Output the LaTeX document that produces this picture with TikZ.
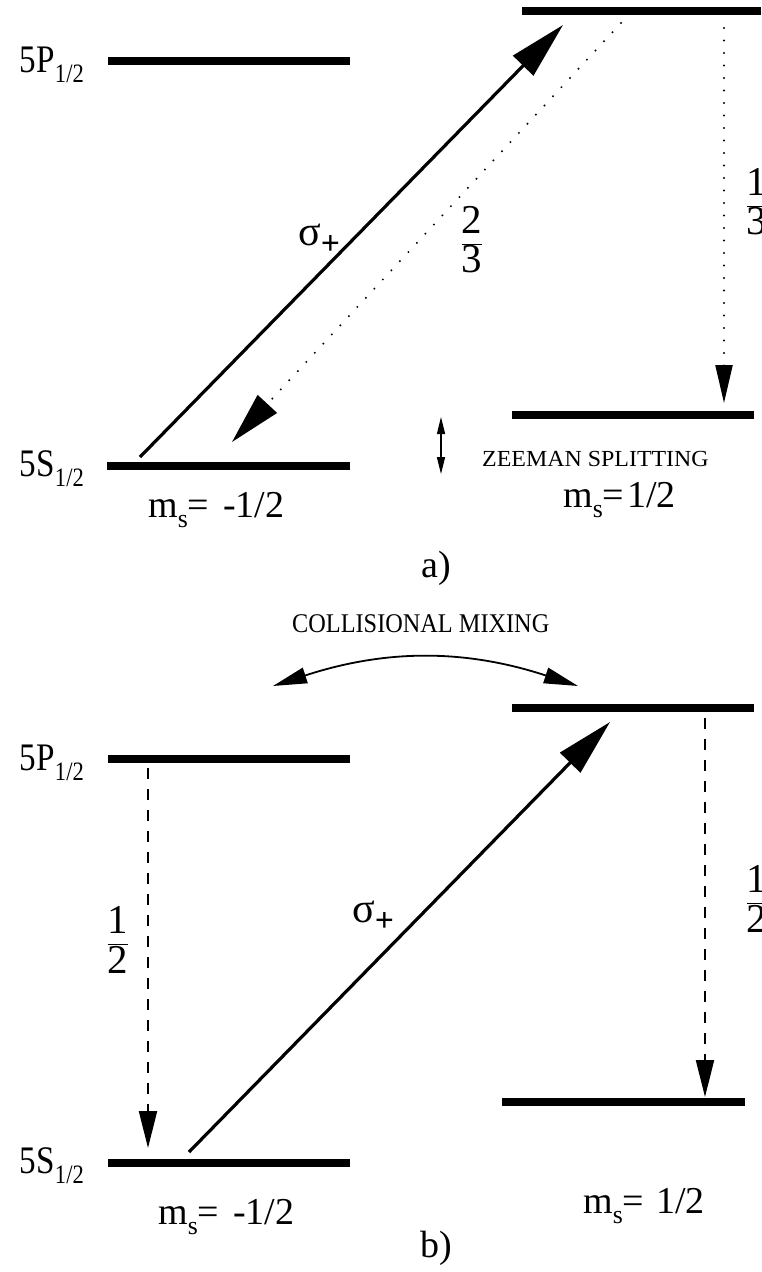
\documentclass[tikz,border=0pt]{standalone}
\usepackage{fontspec}
\setmainfont{Liberation Serif}
\usepackage{graphicx}
\usetikzlibrary{arrows.meta}
\newcommand{\lsub}[1]{\raisebox{-0.27em}{\scalebox{0.68}{#1}}}
\newcommand{\psub}[1]{\raisebox{-0.22em}{\scalebox{0.8}{#1}}}
\newcommand{\hs}[2]{\scalebox{#1}[1]{#2}}
\newcommand{\fs}[1]{\fontsize{#1}{#1}\selectfont}
\newcommand{\fr}[2]{$\displaystyle\frac{\mbox{#1}}{\mbox{#2}}$}
\begin{document}
\begin{tikzpicture}[x=1pt,y=-1pt,
  level/.style={line width=8pt, line cap=butt},
  lbl/.style={inner sep=0pt, font=\fs{39}},
  mslbl/.style={inner sep=0pt, font=\fs{38}},
  small/.style={inner sep=0pt, font=\fs{23}},
  frac/.style={inner sep=0pt, font=\fs{41}},
  sig/.style={inner sep=0pt, font=\fs{42}},
  pump/.style={line width=3.2pt, -{Triangle[length=57pt,width=28pt]}},
  dotarrow/.style={line width=2.2pt, line cap=round, dash pattern=on 0pt off 12.5pt},
  dasharrow/.style={line width=2pt, dash pattern=on 11pt off 10pt, -{Triangle[length=37pt,width=18pt]}},
]
\useasboundingbox (0,0) rectangle (761,1272);

% ---------- panel a ----------
\coordinate (PaL) at (108,61);  \coordinate (PaR) at (350,61);
\coordinate (UaL) at (522,11);  \coordinate (UaR) at (761,11);
\coordinate (SaL) at (107,466); \coordinate (SaR) at (350,466);
\coordinate (DaL) at (512,415); \coordinate (DaR) at (754,415);
\draw[level] (PaL) -- (PaR);
\draw[level] (UaL) -- (UaR);
\draw[level] (SaL) -- (SaR);
\draw[level] (DaL) -- (DaR);

\node[lbl, anchor=base east] (p5a) at (84,72) {\hs{0.85}{5P\lsub{1/2}}};
\node[lbl, anchor=base east] (s5a) at (84,476) {\hs{0.85}{5S\lsub{1/2}}};

\coordinate (sigAs) at (140,457); \coordinate (sigAe) at (563,25);
\draw[pump] (sigAs) -- (sigAe);
\node[sig, anchor=base west] (sigA) at (298,245) {σ\psub{\textbf{+}}};

\coordinate (twoS) at (621,23); \coordinate (twoE) at (232,442);
\draw[dotarrow, -{Triangle[length=52pt,width=26pt]}] (twoS) -- (twoE);
\node[frac] (twothird) at (472,240) {\fr{2}{3}};

\coordinate (oneS) at (724,28); \coordinate (oneE) at (724,403);
\draw[dotarrow, -{Triangle[length=38pt,width=17pt]}] (oneS) -- (oneE);
\node[frac] (onethird) at (757,202) {\fr{1}{3}};

\coordinate (zT) at (441,417); \coordinate (zB) at (441,474);
\draw[line width=1.3pt, {Triangle[length=17pt,width=8pt]}-{Triangle[length=17pt,width=8pt]}] (zT) -- (zB);
\node[small, anchor=base west] (zee) at (482,466) {\hs{1.04}{ZEEMAN SPLITTING}};

\node[mslbl, anchor=base west] (msa1) at (148,517) {m\lsub{s}=\hspace{14pt}-1/2};
\node[mslbl, anchor=base west] (msa2) at (563,507) {m\lsub{s}=\hspace{3pt}1/2};
\node[mslbl, anchor=base west] (capa) at (421,577) {a)};

% ---------- panel b ----------
\coordinate (PbL) at (108,759);  \coordinate (PbR) at (350,759);
\coordinate (UbL) at (512,708);  \coordinate (UbR) at (754,708);
\coordinate (SbL) at (108,1163); \coordinate (SbR) at (350,1163);
\coordinate (DbL) at (502,1102); \coordinate (DbR) at (745,1102);
\draw[level] (PbL) -- (PbR);
\draw[level] (UbL) -- (UbR);
\draw[level] (SbL) -- (SbR);
\draw[level] (DbL) -- (DbR);

\node[lbl, anchor=base east] (p5b) at (84,770) {\hs{0.85}{5P\lsub{1/2}}};
\node[lbl, anchor=base east] (s5b) at (84,1173) {\hs{0.85}{5S\lsub{1/2}}};

\node[inner sep=0pt, font=\fs{27}, anchor=base west] (coll) at (292,632) {\hs{0.9}{COLLISIONAL MIXING}};
\coordinate (cmL) at (273,686); \coordinate (cmR) at (578,686);
\draw[line width=1.8pt, {Triangle[length=34pt,width=16pt]}-{Triangle[length=34pt,width=16pt]}]
  (cmL) .. controls (386,649) and (465,649) .. (cmR);

\coordinate (sigBs) at (189,1152); \coordinate (sigBe) at (610,722);
\draw[pump] (sigBs) -- (sigBe);
\node[sig, anchor=base west] (sigB) at (352,922) {σ\psub{\textbf{+}}};

\coordinate (hLs) at (148,768); \coordinate (hLe) at (148,1148);
\draw[dasharrow] (hLs) -- (hLe);
\node[frac] (halfL) at (118,940) {\fr{1}{2}};

\coordinate (hRs) at (705,718); \coordinate (hRe) at (705,1097);
\draw[dasharrow] (hRs) -- (hRe);
\node[frac] (halfR) at (757,899) {\fr{1}{2}};

\node[mslbl, anchor=base west] (msb1) at (158,1224) {m\lsub{s}=\hspace{14pt}-1/2};
\node[mslbl, anchor=base west] (msb2) at (583,1213) {m\lsub{s}=\hspace{12pt}1/2};
\node[mslbl, anchor=base west] (capb) at (420,1257) {b)};
\end{tikzpicture}
\end{document}
